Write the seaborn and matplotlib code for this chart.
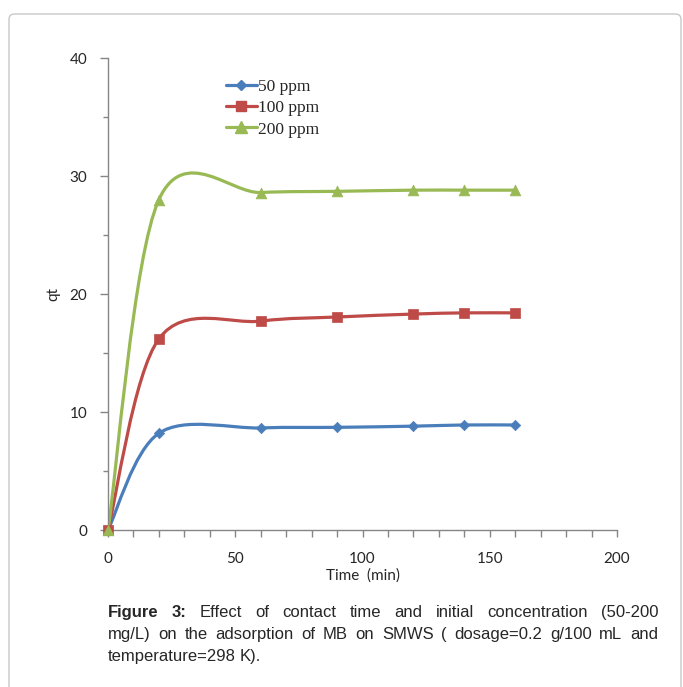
import numpy as np
import matplotlib
matplotlib.use('Agg')
import matplotlib.pyplot as plt
import seaborn as sns
from matplotlib.path import Path
from matplotlib.patches import PathPatch, FancyBboxPatch
from matplotlib.lines import Line2D
from matplotlib.ticker import MultipleLocator

# data
time_min = [0, 20, 60, 90, 120, 140, 160]
qt_50 = [0, 8.2, 8.65, 8.7, 8.8, 8.9, 8.9]
qt_100 = [0, 16.2, 17.7, 18.05, 18.3, 18.4, 18.4]
qt_200 = [0, 28.0, 28.6, 28.7, 28.8, 28.8, 28.8]
series_labels = ['50 ppm', '100 ppm', '200 ppm']
colors = ['#4A7EBB', '#BE4B48', '#98B954']
markers = ['D', 's', '^']
marker_sizes = [28, 48, 60]

caption_lines = [
    "Figure 3: Effect of contact time and initial concentration (50-200",
    "mg/L) on the adsorption of MB on SMWS ( dosage=0.2 g/100 mL and",
    "temperature=298 K).",
]


def smooth_path(x, y):
    # excel style smoothed line (catmull-rom as cubic bezier)
    pts = np.column_stack([x, y]).astype(float)
    n = len(pts)
    verts = [pts[0]]
    codes = [Path.MOVETO]
    for i in range(n - 1):
        p0 = pts[max(i - 1, 0)]
        p1 = pts[i]
        p2 = pts[i + 1]
        p3 = pts[min(i + 2, n - 1)]
        verts += [p1 + (p2 - p0) / 6, p2 - (p3 - p1) / 6, p2]
        codes += [Path.CURVE4] * 3
    return Path(verts, codes)


sns.set_style('white')
W, H = 683, 687
fig = plt.figure(figsize=(W / 100, H / 100), dpi=100)
ax = fig.add_axes([108 / W, 1 - 530 / H, (617 - 108) / W, (530 - 58) / H])

for ys, lab, c, m, s in zip([qt_50, qt_100, qt_200], series_labels, colors, markers, marker_sizes):
    ax.add_patch(PathPatch(smooth_path(time_min, ys), fill=False, ec=c, lw=2.3,
                           capstyle='round', joinstyle='round', zorder=2))
    sns.scatterplot(x=time_min, y=ys, ax=ax, color=c, marker=m, s=s,
                    edgecolor=c, linewidth=0.5, zorder=3, legend=False, clip_on=False)

ax.set_xlim(0, 200)
ax.set_ylim(0, 40)
ax.xaxis.set_major_locator(MultipleLocator(50))
ax.xaxis.set_minor_locator(MultipleLocator(10))
ax.yaxis.set_major_locator(MultipleLocator(10))
ax.yaxis.set_minor_locator(MultipleLocator(5))

for side in ['top', 'right']:
    ax.spines[side].set_visible(False)
for side in ['left', 'bottom']:
    ax.spines[side].set_color('#868686')
    ax.spines[side].set_linewidth(1)

tick_font = 'Lato'
ax.tick_params(axis='x', which='both', direction='out', length=5, width=1,
               color='#868686', bottom=True, pad=11, labelsize=11)
ax.tick_params(axis='y', which='major', direction='out', length=6, width=1,
               color='#868686', left=True, pad=9, labelsize=11)
ax.tick_params(axis='y', which='minor', direction='out', length=3.5, width=1,
               color='#868686', left=True)
for lab in ax.get_xticklabels() + ax.get_yticklabels():
    lab.set_family(tick_font)

ax.set_xlabel('Time  (min)', fontsize=11, family=tick_font)
ax.set_ylabel('qt', fontsize=11, family=tick_font)
ax.xaxis.set_label_coords(0.5, (530 - 568) / (530 - 58))
ax.yaxis.set_label_coords((60 - 108) / (617 - 108), 0.5)

handles = [Line2D([], [], color=c, marker=m, markersize=ms, lw=2.3, markeredgecolor=c)
           for c, m, ms in zip(colors, markers, [5.5, 7, 8])]
ax.legend(handles, series_labels, loc='upper left',
          bbox_to_anchor=((217 - 108) / 509, (530 - 70) / 472),
          frameon=False, prop={'family': 'Liberation Serif', 'size': 12.5},
          handlelength=1.8, handletextpad=0.05, labelspacing=0.3, borderpad=0)

# rounded frame around the figure
fig.add_artist(FancyBboxPatch((9 / W, -0.05), (681 - 9) / W, (H - 14) / H + 0.05,
                              boxstyle='round,pad=0,rounding_size=0.008',
                              transform=fig.transFigure, fill=False,
                              ec='#c8c8c8', lw=1))

# justified caption
renderer = fig.canvas.get_renderer()
x_left, x_right = 108 / W, 658 / W
space = 3.6 / W
for i, line in enumerate(caption_lines):
    y = 1 - (617 + 22 * i) / H
    words = line.split(' ')
    texts = []
    for j, w in enumerate(words):
        t = fig.text(0, y, w, fontsize=12, family='Liberation Sans', va='baseline',
                     fontweight='bold' if (i == 0 and j < 2) else 'normal')
        texts.append(t)
    widths = [t.get_window_extent(renderer).width / fig.bbox.width for t in texts]
    if i < len(caption_lines) - 1:
        gap = (x_right - x_left - sum(widths)) / (len(words) - 1)
    else:
        gap = space
    x = x_left
    for t, w in zip(texts, widths):
        t.set_x(x)
        x += w + gap

plt.savefig('out.png', dpi=100)
